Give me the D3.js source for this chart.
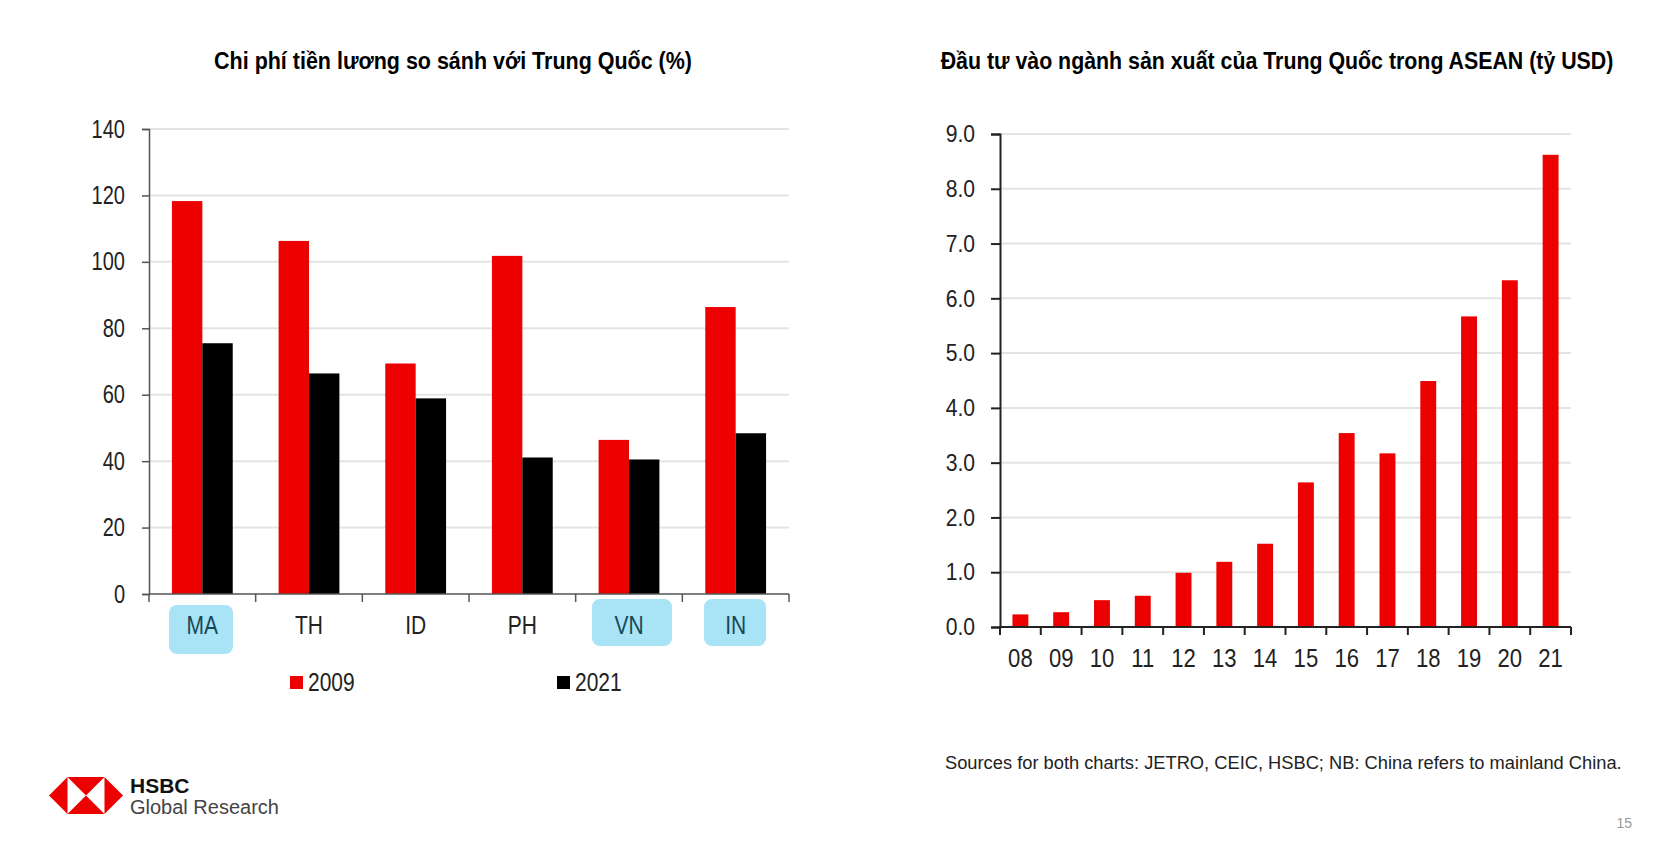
<!DOCTYPE html>
<html>
<head>
<meta charset="utf-8">
<script src="https://cdn.jsdelivr.net/npm/d3@7"></script>
<style>
  body { margin: 0; background: #fff; }
  svg { display: block; }
  text { font-family: "Liberation Sans", Arial, sans-serif; }
  .title { font-weight: bold; font-size: 24px; fill: #000; }
  .grid line { stroke: #e4e4e4; stroke-width: 2; }
</style>
</head>
<body>
<svg id="chart" width="1676" height="868"></svg>
<script>
// left chart: wage cost vs China (%)
var countries = ["MA", "TH", "ID", "PH", "VN", "IN"];
var highlighted = ["MA", "VN", "IN"];
var years = ["2009", "2021"];
var wage2009 = [118.3, 106.3, 69.4, 101.8, 46.4, 86.4];
var wage2021 = [75.5, 66.4, 58.9, 41.1, 40.5, 48.4];
var leftTicks = [0, 20, 40, 60, 80, 100, 120, 140];

// right chart: Chinese manufacturing investment in ASEAN (USD bn)
var yearLabels = ["08", "09", "10", "11", "12", "13", "14", "15", "16", "17", "18", "19", "20", "21"];
var investment = [0.23, 0.27, 0.49, 0.57, 0.99, 1.19, 1.52, 2.64, 3.54, 3.17, 4.49, 5.67, 6.33, 8.62];
var rightTicks = [0, 1, 2, 3, 4, 5, 6, 7, 8, 9];

var RED = "#ec0000";
var svg = d3.select("#chart");

// the original uses a narrow Arial; squeeze Liberation Sans to get the same look
function condense(sel, factor) {
  sel.each(function() {
    var w = this.getComputedTextLength();
    d3.select(this).attr("textLength", w * factor).attr("lengthAdjust", "spacingAndGlyphs");
  });
}

// titles: squeezed horizontally with a transform
function title(x, y, width, txt) {
  var g = svg.append("g").attr("transform", "translate(" + x + "," + y + ")");
  var t = g.append("text").attr("class", "title").attr("text-anchor", "middle").text(txt);
  var k = width / t.node().getComputedTextLength();
  g.attr("transform", "translate(" + x + "," + y + ") scale(" + k + ",1)");
}

/* ---------- left chart ---------- */
var L = {left: 149, right: 789, top: 129, bottom: 594};
var wage = countries.map(function(c, i) { return {c: c, v: [wage2009[i], wage2021[i]]}; });

var x0 = d3.scaleBand().domain(countries).range([L.left, L.right]);
var bw = x0.bandwidth();
var x1 = d3.scaleBand().domain(years).range([bw * 0.215, bw * 0.785]);
var yL = d3.scaleLinear().domain([0, 140]).range([L.bottom, L.top]);

title(453, 69, 478, "Chi phí tiền lương so sánh với Trung Quốc (%)");

svg.append("g").attr("class", "grid")
  .selectAll("line").data(leftTicks.slice(1)).join("line")
  .attr("x1", L.left).attr("x2", L.right)
  .attr("y1", function(d) { return yL(d); }).attr("y2", function(d) { return yL(d); });

// highlight boxes behind the country labels
var boxes = {MA: [169, 233, 605, 654], VN: [592, 672, 599, 646], IN: [704, 766, 599, 646]};
svg.append("g").selectAll("rect").data(highlighted).join("rect")
  .attr("x", function(d) { return boxes[d][0]; })
  .attr("y", function(d) { return boxes[d][2]; })
  .attr("width", function(d) { return boxes[d][1] - boxes[d][0]; })
  .attr("height", function(d) { return boxes[d][3] - boxes[d][2]; })
  .attr("rx", 8).attr("fill", "#a9e3f6");

var groups = svg.append("g").selectAll("g").data(wage).join("g")
  .attr("transform", function(d) { return "translate(" + x0(d.c) + ",0)"; });
groups.selectAll("rect").data(function(d) { return d.v; }).join("rect")
  .attr("x", function(d, i) { return x1(years[i]); })
  .attr("width", x1.bandwidth())
  .attr("y", function(d) { return yL(d); })
  .attr("height", function(d) { return yL(0) - yL(d); })
  .attr("fill", function(d, i) { return i == 0 ? RED : "#000"; });

var yAxisL = svg.append("g")
  .attr("transform", "translate(" + L.left + ",0)")
  .call(d3.axisLeft(yL).tickValues(leftTicks).tickSize(7).tickPadding(17));
yAxisL.select(".domain").attr("stroke", "#555").attr("stroke-width", 1.5);
yAxisL.selectAll(".tick line").attr("stroke", "#555").attr("stroke-width", 1.5);
yAxisL.selectAll("text").attr("font-family", null).attr("font-size", 25).attr("fill", "#222");
condense(yAxisL.selectAll("text"), 0.8);

// x axis with ticks on category boundaries
var xAxisL = svg.append("g").attr("transform", "translate(0," + L.bottom + ")");
xAxisL.append("line").attr("x1", L.left).attr("x2", L.right).attr("stroke", "#555").attr("stroke-width", 1.5);
xAxisL.selectAll(".b").data(d3.range(countries.length + 1)).join("line").attr("class", "b")
  .attr("x1", function(i) { return L.left + i * x0.step(); })
  .attr("x2", function(i) { return L.left + i * x0.step(); })
  .attr("y1", 0).attr("y2", 8).attr("stroke", "#555").attr("stroke-width", 1.5);
var xlab = xAxisL.selectAll("text").data(countries).join("text")
  .attr("x", function(d) { return x0(d) + bw / 2; })
  .attr("y", 40).attr("text-anchor", "middle").attr("font-size", 25)
  .attr("fill", function(d) { return highlighted.indexOf(d) >= 0 ? "#15495a" : "#222"; })
  .text(function(d) { return d; });
condense(xlab, 0.84);

// legend
var legendX = [290, 557];
var leg = svg.append("g").selectAll("g").data(years).join("g")
  .attr("transform", function(d, i) { return "translate(" + legendX[i] + ",682)"; });
leg.append("rect").attr("x", 0).attr("y", -6).attr("width", 13).attr("height", 13)
  .attr("fill", function(d, i) { return i == 0 ? RED : "#000"; });
var legText = leg.append("text").attr("x", 18).attr("y", 9)
  .attr("font-size", 25).attr("fill", "#222").text(function(d) { return d; });
condense(legText, 0.84);

/* ---------- right chart ---------- */
var R = {left: 1000, right: 1571, top: 134, bottom: 627};
var xR = d3.scaleBand().domain(yearLabels).range([R.left, R.right]).paddingInner(0.61).paddingOuter(0.305);
var yR = d3.scaleLinear().domain([0, 9]).range([R.bottom, R.top]);

title(1277, 69, 673, "Đầu tư vào ngành sản xuất của Trung Quốc trong ASEAN (tỷ USD)");

svg.append("g").attr("class", "grid")
  .selectAll("line").data(rightTicks.slice(1)).join("line")
  .attr("x1", R.left).attr("x2", R.right)
  .attr("y1", function(d) { return yR(d); }).attr("y2", function(d) { return yR(d); });

svg.append("g").selectAll("rect").data(investment).join("rect")
  .attr("x", function(d, i) { return xR(yearLabels[i]); })
  .attr("width", xR.bandwidth())
  .attr("y", function(d) { return yR(d); })
  .attr("height", function(d) { return yR(0) - yR(d); })
  .attr("fill", RED);

var yAxisR = svg.append("g")
  .attr("transform", "translate(" + R.left + ",0)")
  .call(d3.axisLeft(yR).tickValues(rightTicks).tickFormat(d3.format(".1f")).tickSize(9).tickPadding(16));
yAxisR.select(".domain").attr("stroke", "#222").attr("stroke-width", 2);
yAxisR.selectAll(".tick line").attr("stroke", "#222").attr("stroke-width", 2);
yAxisR.selectAll("text").attr("font-family", null).attr("font-size", 24).attr("fill", "#222");
condense(yAxisR.selectAll("text"), 0.88);

var xAxisR = svg.append("g").attr("transform", "translate(0," + R.bottom + ")");
xAxisR.append("line").attr("x1", R.left - 1).attr("x2", R.right).attr("stroke", "#222").attr("stroke-width", 2);
xAxisR.selectAll(".b").data(d3.range(yearLabels.length + 1)).join("line").attr("class", "b")
  .attr("x1", function(i) { return R.left + i * xR.step(); })
  .attr("x2", function(i) { return R.left + i * xR.step(); })
  .attr("y1", 0).attr("y2", 8).attr("stroke", "#222").attr("stroke-width", 2);
var xlabR = xAxisR.selectAll("text").data(yearLabels).join("text")
  .attr("x", function(d) { return xR(d) + xR.bandwidth() / 2; })
  .attr("y", 40).attr("text-anchor", "middle").attr("font-size", 26).attr("fill", "#222")
  .text(function(d) { return d; });
condense(xlabR, 0.85);

/* ---------- footer ---------- */
svg.append("text").attr("x", 945).attr("y", 769)
  .attr("font-size", 18.3).attr("fill", "#222")
  .text("Sources for both charts: JETRO, CEIC, HSBC; NB: China refers to mainland China.");
svg.append("text").attr("x", 1632).attr("y", 828).attr("text-anchor", "end")
  .attr("font-size", 14).attr("fill", "#999")
  .text("15");

// HSBC logo
var logo = svg.append("g").attr("transform", "translate(86,795.5)");
var h = 18.5;
logo.append("polygon").attr("points", [[-2 * h, 0], [-h, -h], [-h, h]].join(" ")).attr("fill", RED);
logo.append("polygon").attr("points", [[2 * h, 0], [h, -h], [h, h]].join(" ")).attr("fill", RED);
logo.append("polygon").attr("points", [[-h, -h], [h, -h], [0, 0]].join(" ")).attr("fill", RED);
logo.append("polygon").attr("points", [[-h, h], [h, h], [0, 0]].join(" ")).attr("fill", RED);
svg.append("text").attr("x", 130).attr("y", 793)
  .attr("font-weight", "bold").attr("font-size", 21).attr("fill", "#111")
  .text("HSBC");
svg.append("text").attr("x", 130).attr("y", 814)
  .attr("font-size", 20).attr("fill", "#444")
  .text("Global Research");
</script>
</body>
</html>
